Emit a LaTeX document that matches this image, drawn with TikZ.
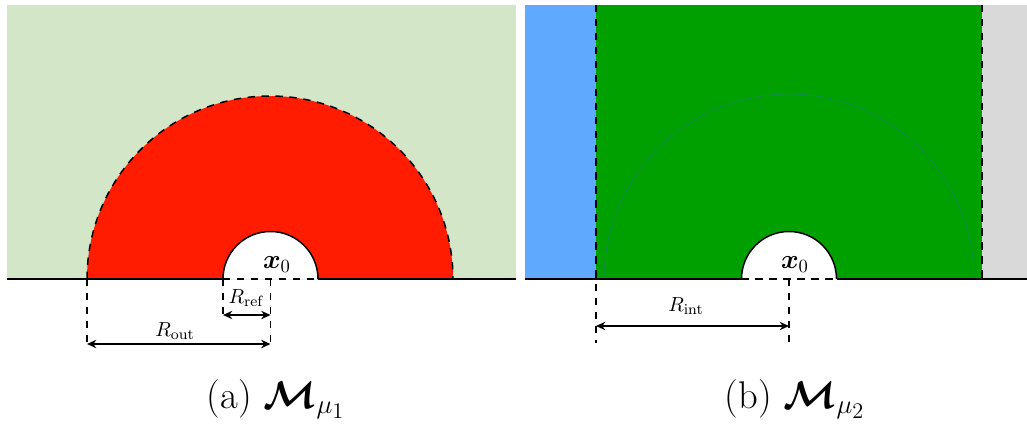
\documentclass[tikz,border=0pt]{standalone}
\usepackage{amsmath,bm}
\usetikzlibrary{arrows.meta}
\definecolor{lgreen}{RGB}{212,230,200}
\definecolor{hred}{RGB}{255,28,0}
\definecolor{lblue}{RGB}{95,170,255}
\definecolor{dgreen}{RGB}{0,160,0}
\definecolor{lgray}{RGB}{217,217,217}
\definecolor{arcc}{RGB}{20,140,80}
\begin{document}
\begin{tikzpicture}[x=0.5376pt,y=0.5376pt,line width=0.8pt,
  dsh/.style={dash pattern=on 4pt off 3.5pt},
  dim/.style={line width=0.7pt,{Stealth[length=5pt,width=4.5pt]}-{Stealth[length=5pt,width=4.5pt]}},
  lab/.style={anchor=base,inner sep=0pt,font=\fontsize{10.95}{13}\selectfont},
  xlab/.style={lab,font=\Large},
  captext/.style={lab,font=\huge}]
\useasboundingbox (0,0) rectangle (1027,425);
% ---------- left panel ----------
\fill[lgreen] (7,146) rectangle (516,420);
\fill[hred] (87,146) arc[start angle=180,end angle=0,radius=183] -- cycle;
\fill[white] (223,146) arc[start angle=180,end angle=0,radius=47.5] -- cycle;
\draw[dsh] (87,146) arc[start angle=180,end angle=0,radius=183];
\draw (223,146) arc[start angle=180,end angle=0,radius=47.5];
\draw (7,146) -- (223,146);
\draw (318,146) -- (516,146);
\draw[dsh] (223,146) -- (318,146);
\coordinate (lo) at (87,146);
\coordinate (li) at (223,146);
\coordinate (lc) at (270.5,146);
\coordinate (lob) at (87,77);
\coordinate (lib) at (223,107);
\coordinate (lcb) at (270.5,77);
\draw[dsh] (lo) -- (lob);
\draw[dsh] (li) -- (lib);
\draw[dsh] (lc) -- (lcb);
\coordinate (r1a) at (223,110);
\coordinate (r1b) at (270.5,110);
\draw[dim] (r1a) -- (r1b);
\coordinate (r2a) at (87,81);
\coordinate (r2b) at (270.5,81);
\draw[dim] (r2a) -- (r2b);
\node[lab] (lref) at (246.5,122) {$R_{\mathrm{ref}}$};
\node[lab] (lout) at (175,89) {$R_{\mathrm{out}}$};
\node[xlab] (lx0) at (277,157) {$\boldsymbol{x}_0$};
\node[captext] (capa) at (276,17) {(a) $\boldsymbol{\mathcal{M}}_{\mu_1}$};
% ---------- right panel ----------
\fill[lblue] (525,146) rectangle (596,420);
\fill[dgreen] (596,146) rectangle (982,420);
\fill[lgray] (982,146) rectangle (1027,420);
\draw[arcc,line width=0.4pt] (604,146) arc[start angle=180,end angle=0,radius=185];
\fill[white] (741.5,146) arc[start angle=180,end angle=0,radius=47.5] -- cycle;
\draw (741.5,146) arc[start angle=180,end angle=0,radius=47.5];
\draw (525,146) -- (741.5,146);
\draw (836.5,146) -- (1027,146);
\draw[dsh] (741.5,146) -- (836.5,146);
\coordinate (bt) at (596,420);
\coordinate (bb) at (596,82);
\coordinate (gt) at (982,420);
\coordinate (gb) at (982,146);
\coordinate (ct) at (789,146);
\coordinate (cb) at (789,82);
\draw[dsh] (bt) -- (bb);
\draw[dsh] (gt) -- (gb);
\draw[dsh] (ct) -- (cb);
\coordinate (r3a) at (596,99);
\coordinate (r3b) at (789,99);
\draw[dim] (r3a) -- (r3b);
\node[lab] (lint) at (686,114) {$R_{\mathrm{int}}$};
\node[xlab] (rx0) at (795,157) {$\boldsymbol{x}_0$};
\node[captext] (capb) at (795,17) {(b) $\boldsymbol{\mathcal{M}}_{\mu_2}$};
\end{tikzpicture}
\end{document}
